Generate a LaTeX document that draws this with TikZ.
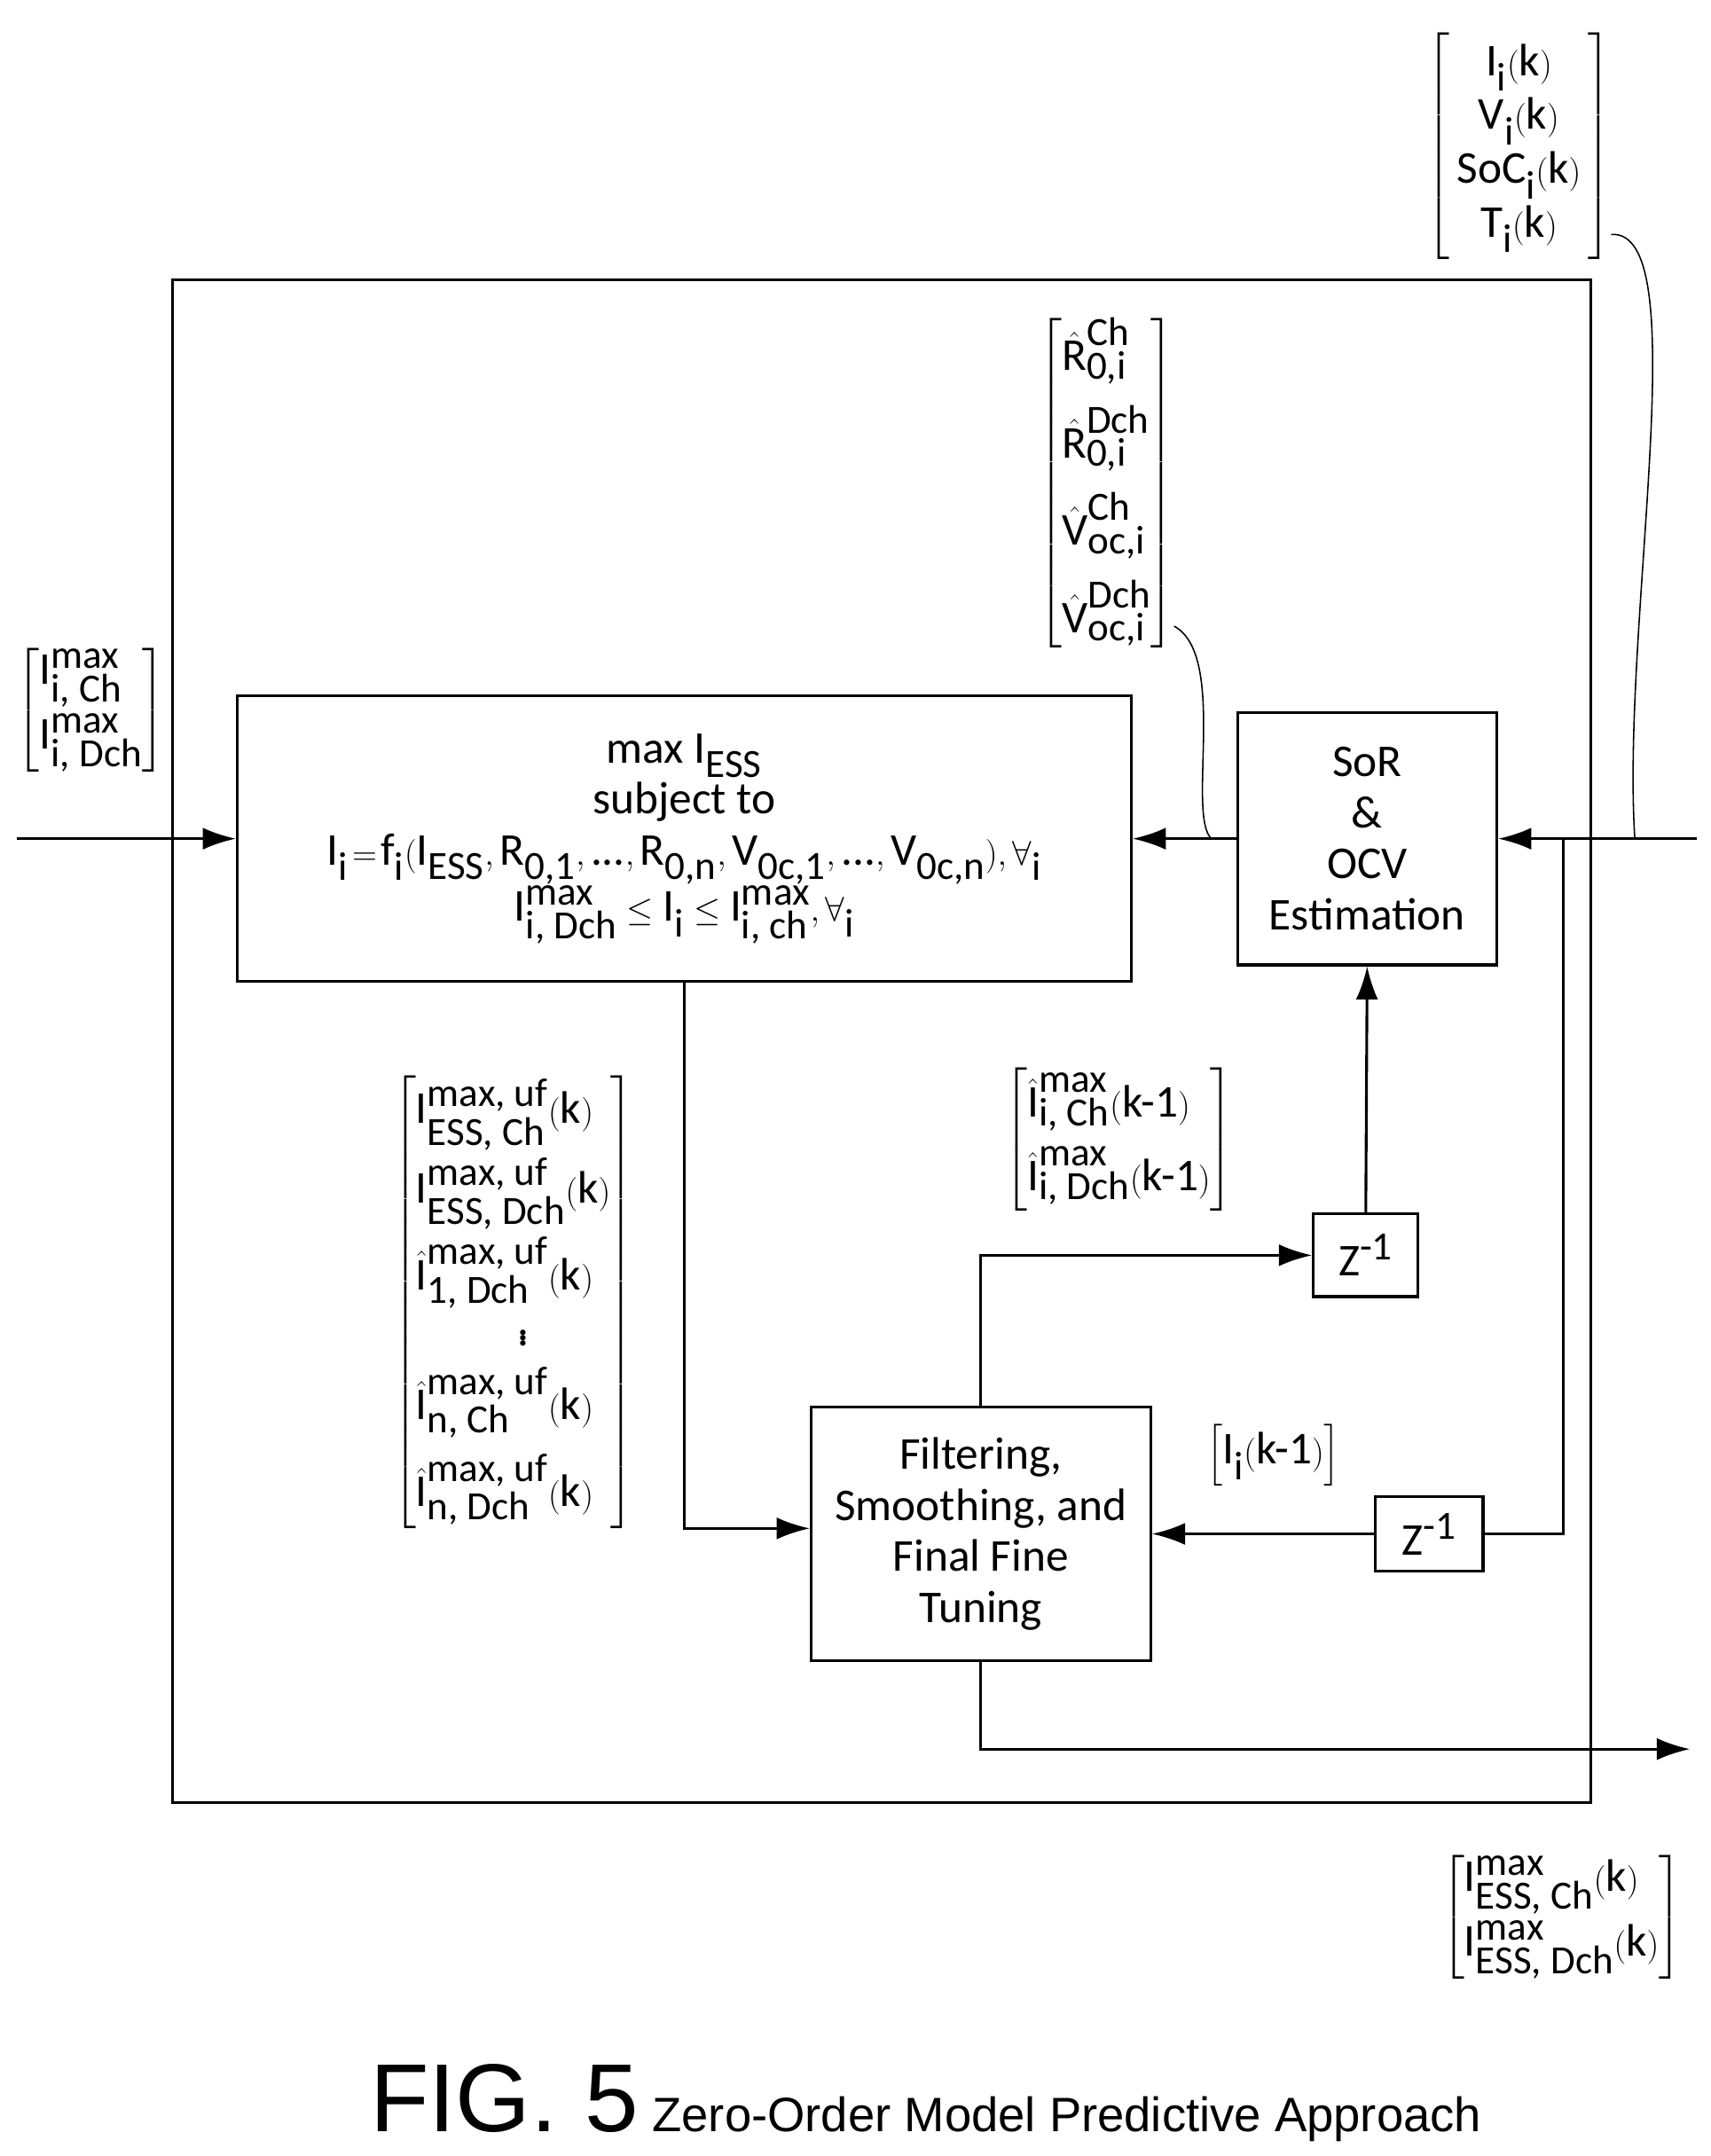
\documentclass[tikz,border=0pt]{standalone}
\usepackage{amsmath}
\usepackage{fontspec}
\setmainfont{Carlito}
\newfontfamily\capfont{Liberation Sans}
\DeclareMathSizes{33}{33}{29}{24}
\usetikzlibrary{arrows.meta}
\newcommand{\tx}[1]{\text{#1}}
\tikzset{
  blk/.style={draw, line width=2pt, align=center, inner sep=0pt},
  wire/.style={line width=2pt},
  arr/.style={wire, -{Latex[length=24pt,width=16pt]}},
  lbl/.style={inner sep=0pt}
}
\begin{document}
\begin{tikzpicture}[x=1pt,y=-1pt,font=\fontsize{33}{37}\selectfont]
\useasboundingbox (0,0) rectangle (1240,1563);
% Drawing frame and blocks
\draw[wire] (125,203) rectangle (1153,1307);
\node[blk, minimum width=648pt, minimum height=207pt] (opt) at (496,608) {max $\tx{I}_{\tx{ESS}}$\\ subject to\\
$\tx{I}_{\tx{i}}\!=\!\tx{f}_{\tx{i}}(\tx{I}_{\tx{ESS}},\tx{R}_{\tx{0,1}},\tx{...},\tx{R}_{\tx{0,n}},\tx{V}_{\tx{0c,1}},\tx{...},\tx{V}_{\tx{0c,n}}),\forall_{\tx{i}}$\\
$\tx{I}^{\tx{max}}_{\tx{i, Dch}}\le\tx{I}_{\tx{i}}\le\tx{I}^{\tx{max}}_{\tx{i, ch}},\forall_{\tx{i}}$};
\node[blk, minimum width=188pt, minimum height=183pt] (sor) at (991,608) {SoR\\ \&\\ OCV\\ Estimation};
\node[blk, minimum width=246pt, minimum height=184pt] (filt) at (711,1112) {Filtering,\\ Smoothing, and\\ Final Fine\\ Tuning};
\node[blk, minimum width=76pt, minimum height=60pt] (zup) at (990,910) {$\tx{Z}^{\tx{-1}}$};
\node[blk, minimum width=78pt, minimum height=54pt] (zlo) at (1036,1112) {$\tx{Z}^{\tx{-1}}$};
% Drawing connectors
\coordinate (inL) at (12,608);
\coordinate (inR) at (1230,608);
\coordinate (tap) at (1133,608);
\coordinate (out) at (1225,1268);
\coordinate (tapR) at (1185,608);
\coordinate (tapS) at (878,608);
\draw[arr] (inL) -- (opt.west);
\draw[arr] (inR) -- (sor.east);
\draw[wire] (tap) |- (zlo.east);
\draw[arr] (zlo.west) -- (filt.east |- zlo.west);
\draw[arr] (sor.west) -- (opt.east);
\draw[arr] (opt.south) |- (filt.west |- 0,1108);
\draw[arr] (filt.north) |- (zup.west);
\draw[arr] (zup.north) -- (sor.south);
\draw[arr] (filt.south) |- (out);
% Drawing labels
\node[lbl] (meas) at (1101,106) {$\left[\begin{array}{c}\tx{I}_{\tx{i}}(\tx{k})\\[2pt] \tx{V}_{\tx{i}}(\tx{k})\\[2pt] \tx{SoC}_{\tx{i}}(\tx{k})\\[2pt] \tx{T}_{\tx{i}}(\tx{k})\end{array}\right]$};
\node[lbl] (est) at (802,350) {$\left[\begin{array}{@{}l@{}}\hat{\tx{R}}^{\tx{Ch}}_{\tx{0,i}}\\[14pt] \hat{\tx{R}}^{\tx{Dch}}_{\tx{0,i}}\\[14pt] \hat{\tx{V}}^{\tx{Ch}}_{\tx{oc,i}}\\[14pt] \hat{\tx{V}}^{\tx{Dch}}_{\tx{oc,i}}\end{array}\right]$};
\node[lbl] (lim) at (66,515) {$\left[\begin{array}{@{}l@{}}\tx{I}^{\tx{max}}_{\tx{i, Ch}}\\[10pt] \tx{I}^{\tx{max}}_{\tx{i, Dch}}\end{array}\right]$};
\node[lbl] (unf) at (372,944) {$\left[\begin{array}{@{}l@{}}\tx{I}^{\tx{max, uf}}_{\tx{ESS, Ch}}(\tx{k})\\[14pt] \tx{I}^{\tx{max, uf}}_{\tx{ESS, Dch}}(\tx{k})\\[14pt] \hat{\tx{I}}^{\tx{max, uf}}_{\tx{1, Dch}}(\tx{k})\\[4pt] \qquad\ \vdots\\[4pt] \hat{\tx{I}}^{\tx{max, uf}}_{\tx{n, Ch}}(\tx{k})\\[14pt] \hat{\tx{I}}^{\tx{max, uf}}_{\tx{n, Dch}}(\tx{k})\end{array}\right]$};
\node[lbl] (prev) at (811,826) {$\left[\begin{array}{@{}l@{}}\hat{\tx{I}}^{\tx{max}}_{\tx{i, Ch}}(\tx{k-1})\\[10pt] \hat{\tx{I}}^{\tx{max}}_{\tx{i, Dch}}(\tx{k-1})\end{array}\right]$};
\node[lbl] (iprev) at (923,1055) {$\left[\tx{I}_{\tx{i}}(\tx{k-1})\right]$};
\node[lbl] (res) at (1132,1390) {$\left[\begin{array}{@{}l@{}}\tx{I}^{\tx{max}}_{\tx{ESS, Ch}}(\tx{k})\\[10pt] \tx{I}^{\tx{max}}_{\tx{ESS, Dch}}(\tx{k})\end{array}\right]$};
\draw[line width=1pt] (meas.east |- 0,170) .. controls (1230,165) and (1175,450) .. (tapR);
\draw[line width=1pt] ([yshift=16pt]est.south east) .. controls (890,475) and (860,590) .. (tapS);
% Caption
\node[lbl, anchor=base west, font=\capfont\fontsize{70}{70}\selectfont] (fig) at (268,1545) {FIG. 5};
\node[lbl, anchor=base west, font=\capfont\fontsize{35}{35}\selectfont] (cap) at (fig.base east) {\ Zero-Order Model Predictive Approach};
\end{tikzpicture}
\end{document}
